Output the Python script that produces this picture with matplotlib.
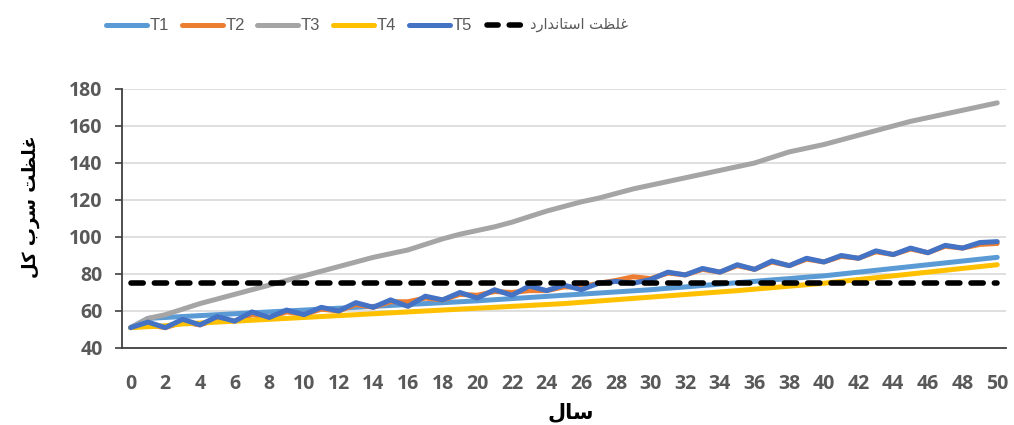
import matplotlib
matplotlib.use("Agg")
import matplotlib.pyplot as plt
from matplotlib.lines import Line2D

years = list(range(0, 51))
T1 = [51, 56, 56.5, 57, 57.5, 58, 58.5, 59, 59.5, 60, 60.5, 61, 61.5, 62, 62.5, 63, 63.5, 64, 64.5, 65, 65.5,
      66.1, 66.7, 67.3, 67.9, 68.5, 69.1, 69.7, 70.3, 70.9, 71.5, 72.3, 73, 73.8, 74.5, 75.3, 76, 76.8, 77.5, 78.3, 79,
      80, 81, 82, 83, 84, 85, 86, 87, 88, 89]
T2 = [51, 52.5, 51, 54, 52.5, 55.5, 54.5, 58, 56.5, 59.5, 58, 61, 60, 63.5, 62, 65, 65, 67, 66, 69, 68.5,
      70.5, 70, 71, 71, 73, 73, 75, 76.5, 78.5, 77.5, 80.5, 79.5, 82.5, 81, 84.5, 82.5, 86.5, 84.5, 88, 86.5,
      89.5, 88.5, 92, 90.5, 93.5, 91.5, 95, 94, 96, 96.5]
T3 = [51, 56, 58, 61, 64, 66.5, 69, 71.5, 74, 76.5, 79, 81.5, 84, 86.5, 89, 91, 93, 96, 99, 101.5, 103.5,
      105.5, 108, 111, 114, 116.5, 119, 121, 123.5, 126, 128, 130, 132, 134, 136, 138, 140, 143, 146, 148, 150,
      152.5, 155, 157.5, 160, 162.5, 164.5, 166.5, 168.5, 170.5, 172.5]
T4 = [51, 51.5, 52, 53, 53.5, 54, 54.5, 55, 55.5, 56, 56.5, 57, 57.5, 58, 58.5, 59, 59.5, 60, 60.5, 61, 61.5,
      62, 62.5, 63, 63.5, 64, 64.7, 65.4, 66.1, 66.8, 67.5, 68.2, 68.9, 69.6, 70.3, 71, 71.8, 72.6, 73.4, 74.2, 75,
      76, 77, 78, 79, 80, 81, 82, 83, 84, 85]
T5 = [51, 54, 51, 55.5, 52.5, 57, 54.5, 59.5, 56.5, 60.5, 58, 62, 60, 64.5, 62, 66, 62.5, 68, 66, 70, 67,
      71.5, 68.5, 73.5, 71, 74, 71.5, 75, 76, 75, 77, 81, 79.5, 83, 81, 85, 82.5, 87, 84.5, 88.5, 86.5,
      90, 88.5, 92.5, 90.5, 94, 91.5, 95.5, 94, 97, 97.5]
standard = [75] * 51

series_names = ["T1", "T2", "T3", "T4", "T5"]
colors = ["#5B9BD5", "#ED7D31", "#A5A5A5", "#FFC000", "#4472C4"]

# Persian labels in shaped presentation forms (visual order)
ylabel_txt = "\uFEDE\uFB90 \uFE8F\uFEAE\uFEB3 \uFE96\uFEC8\uFEE0\uFECF"           # غلظت سرب کل
xlabel_txt = "\uFEDD\uFE8E\uFEB3"                                                 # سال
std_label = "\uFEA9\uFEAD\uFE8D\uFEAA\uFEE7\uFE8E\uFE98\uFEB3\uFE8D \uFE96\uFEC8\uFEE0\uFECF"  # غلظت استاندارد

W, H = 1014, 425
fig = plt.figure(figsize=(W / 100, H / 100), dpi=100)
ax = fig.add_axes([0.1203, 0.1812, 0.992 - 0.1203, 0.7906 - 0.1812])

lw = 3.6
data = [T1, T2, T3, T4, T5]
for name, vals, c in zip(series_names, data, colors):
    ax.plot(years, vals, color=c, lw=lw, solid_capstyle='round', solid_joinstyle='round', label=name)
ax.plot(years, standard, color='black', lw=4, dashes=(2.2, 2.0), dash_capstyle='round', label=std_label)

ax.set_xlim(-0.5, 50.5)
ax.set_ylim(40, 180)
ax.set_yticks(range(40, 181, 20))
ax.set_xticks(range(0, 51, 2))
ax.grid(axis='y', color='#D9D9D9', lw=1.2)
ax.set_axisbelow(True)
for s in ['top', 'right']:
    ax.spines[s].set_visible(False)
for s in ['left', 'bottom']:
    ax.spines[s].set_color('#404040')
    ax.spines[s].set_linewidth(1.3)

ax.tick_params(axis='y', length=5, width=1.2, color='#404040', pad=9, labelcolor='#595959')
ax.tick_params(axis='x', length=0, pad=19, labelcolor='#595959')
for lab in ax.get_xticklabels() + ax.get_yticklabels():
    lab.set_fontfamily(['Open Sans', 'DejaVu Sans'])
    lab.set_fontweight('bold')
    lab.set_fontsize(14)

fig.text(0.030, 0.513, ylabel_txt, rotation=90, ha='center', va='center',
         fontsize=13, fontweight='bold', family=['DejaVu Sans'], color='black')
fig.text(0.563, 0.030, xlabel_txt, ha='center', va='center',
         fontsize=15, fontweight='bold', family=['DejaVu Sans'], color='black')

# manual legend (positions in pixels)
leg_y = 1 - 25 / H
leg_x0 = [106, 182, 257, 333, 409]
for x0, name, c in zip(leg_x0, series_names, colors):
    fig.add_artist(Line2D([x0 / W, (x0 + 41) / W], [leg_y, leg_y], transform=fig.transFigure,
                          color=c, lw=lw, solid_capstyle='round'))
    fig.text((x0 + 44) / W, leg_y, name, ha='left', va='center', fontsize=12,
             family=['Liberation Sans', 'DejaVu Sans'], color='#595959')
fig.add_artist(Line2D([487 / W, 523 / W], [leg_y, leg_y], transform=fig.transFigure,
                      color='black', lw=4, dashes=(2.0, 2.0), dash_capstyle='round'))
fig.text(530 / W, leg_y, std_label, ha='left', va='center', fontsize=10.5,
         family=['DejaVu Sans'], color='#595959')

fig.savefig('out.png', dpi=100)
